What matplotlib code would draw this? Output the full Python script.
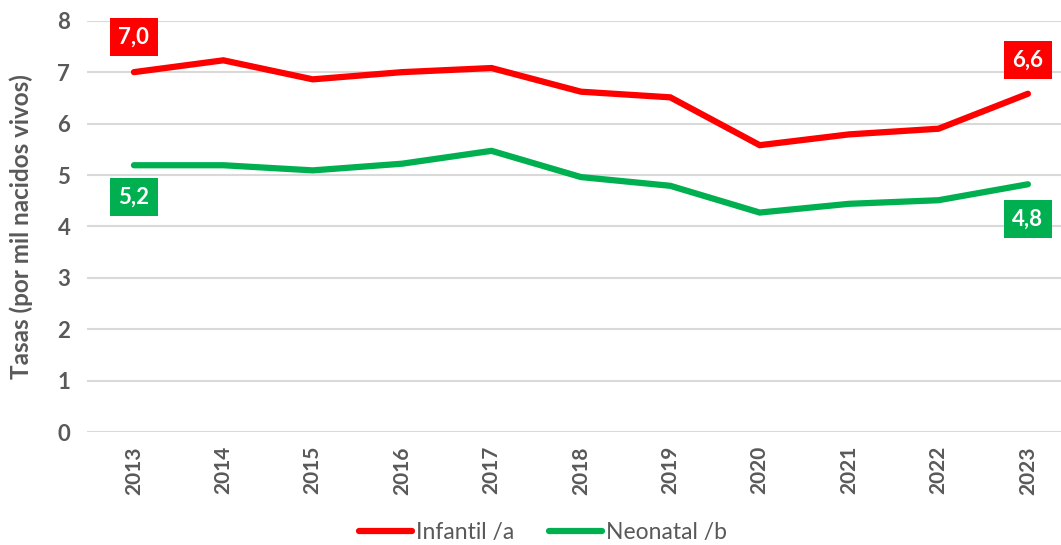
import matplotlib.pyplot as plt
from matplotlib.lines import Line2D

years = ["2013", "2014", "2015", "2016", "2017", "2018", "2019", "2020", "2021", "2022", "2023"]
infantil = [7.0, 7.23, 6.86, 7.0, 7.08, 6.62, 6.51, 5.58, 5.79, 5.9, 6.58]
neonatal = [5.19, 5.19, 5.09, 5.22, 5.47, 4.96, 4.79, 4.27, 4.44, 4.51, 4.82]
first_labels = ["7,0", "5,2"]
last_labels = ["6,6", "4,8"]

red = "#FF0000"
green = "#00B050"
grey = "#595959"

plt.rcParams["font.family"] = ["Lato", "DejaVu Sans"]

fig = plt.figure(figsize=(10.61, 5.45), dpi=100)
ax = fig.add_axes([0.082, 0.207, 0.918, 0.755])

x = list(range(len(years)))
ax.plot(x, infantil, color=red, lw=4.5, solid_capstyle="round", solid_joinstyle="miter", zorder=3)
ax.plot(x, neonatal, color=green, lw=4.5, solid_capstyle="round", solid_joinstyle="miter", zorder=3)

ax.set_xlim(-0.525, 10.37)
ax.set_ylim(0, 8)
ax.set_yticks(range(0, 9))
ax.set_xticks(x)
ax.set_xticklabels(years, rotation=90, fontsize=15, fontweight="bold", color=grey)
for lab in ax.get_yticklabels():
    lab.set_fontsize(16)
    lab.set_fontweight("bold")
    lab.set_color(grey)
ax.tick_params(length=0, pad=12)
ax.tick_params(axis="x", pad=10)
ax.grid(axis="y", color="#D9D9D9", lw=1.5)
ax.set_axisbelow(True)
for s in ax.spines.values():
    s.set_visible(False)

ax.set_ylabel("Tasas (por mil nacidos vivos)", fontsize=17.5, fontweight="bold", color=grey)
ax.yaxis.set_label_coords(-0.055, 0.5)

def box(xi, yi, txt, col, dy):
    ax.annotate(txt, (xi, yi), xytext=(0, dy), textcoords="offset points",
                ha="center", va="center", fontsize=16, fontweight="bold", color="white",
                bbox=dict(boxstyle="square,pad=0.38", fc=col, ec="none"), zorder=5)

box(x[0], infantil[0], first_labels[0], red, 25)
box(x[0], neonatal[0], first_labels[1], green, -23)
box(x[-1], infantil[-1], last_labels[0], red, 24)
box(x[-1], neonatal[-1], last_labels[1], green, -25)

handles = [Line2D([], [], color=red, lw=4.5, solid_capstyle="round"),
           Line2D([], [], color=green, lw=4.5, solid_capstyle="round")]
leg = fig.legend(handles, ["Infantil /a", "Neonatal /b"], loc="lower center",
                 bbox_to_anchor=(0.512, -0.035), ncol=2, frameon=False, fontsize=16.5,
                 handlelength=2.3, handletextpad=0.2, columnspacing=1.5)
for t in leg.get_texts():
    t.set_color(grey)

fig.savefig("out.png", dpi=100)
